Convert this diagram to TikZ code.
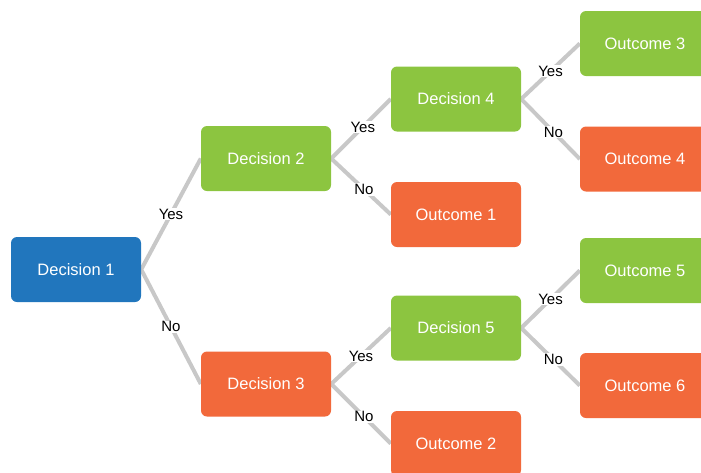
\documentclass[tikz,border=0pt]{standalone}
\usepackage{fontspec}
\setmainfont{Liberation Sans}
\usetikzlibrary{backgrounds}
\definecolor{dblue}{HTML}{2176BD}
\definecolor{dgreen}{HTML}{8CC540}
\definecolor{dorange}{HTML}{F2693B}
\definecolor{linkgray}{HTML}{C8C8C8}
\tikzset{
  box/.style={rectangle, rounded corners=6pt, minimum width=130pt, minimum height=65pt,
    inner sep=0pt, text=white, font=\fontsize{16.5}{19}\selectfont},
  bluebox/.style={box, fill=dblue},
  greenbox/.style={box, fill=dgreen},
  orangebox/.style={box, fill=dorange},
  link/.style={draw=linkgray, line width=4pt, line join=miter},
  lbl/.style={fill=white, inner sep=1pt, text=black, font=\fontsize{15}{17}\selectfont},
}
\begin{document}
\begin{tikzpicture}[x=1pt, y=-1pt]
\clip (0,0) rectangle (701,472);
\useasboundingbox (0,0) rectangle (701,472);

% decisions and outcomes
\node[bluebox]   (d1) at (76,269.5)  {Decision 1};
\node[greenbox]  (d2) at (266,158.5) {Decision 2};
\node[orangebox] (d3) at (266,384)   {Decision 3};
\node[greenbox]  (d4) at (456,99)    {Decision 4};
\node[orangebox] (o1) at (456,214.5) {Outcome 1};
\node[greenbox]  (d5) at (456,328)   {Decision 5};
\node[orangebox] (o2) at (456,443.5) {Outcome 2};
\node[greenbox]  (o3) at (645,43.5)  {Outcome 3};
\node[orangebox] (o4) at (645,159)   {Outcome 4};
\node[greenbox]  (o5) at (645,270.5) {Outcome 5};
\node[orangebox] (o6) at (645,385.5) {Outcome 6};

% branches, behind the boxes
\begin{scope}[on background layer]
\path[link] (d2.west) -- node[lbl, pos=0.5]{Yes} (d1.east) -- node[lbl, pos=0.5]{No} (d3.west);
\path[link] (d4.west) -- node[lbl, pos=0.47]{Yes} (d2.east) -- node[lbl, pos=0.55]{No} (o1.west);
\path[link] (d5.west) -- node[lbl, pos=0.5]{Yes} (d3.east) -- node[lbl, pos=0.55]{No} (o2.west);
\path[link] (o3.west) -- node[lbl, pos=0.5]{Yes} (d4.east) -- node[lbl, pos=0.55]{No} (o4.west);
\path[link] (o5.west) -- node[lbl, pos=0.5]{Yes} (d5.east) -- node[lbl, pos=0.55]{No} (o6.west);
\end{scope}
\end{tikzpicture}
\end{document}
